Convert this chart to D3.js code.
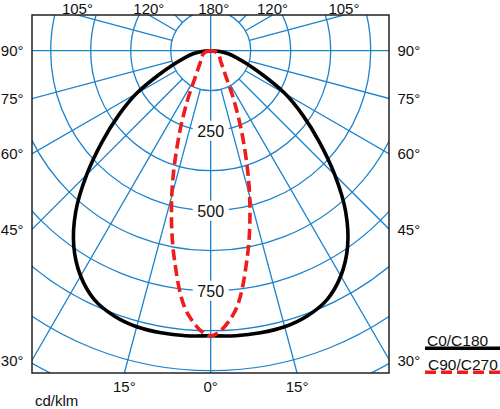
<!DOCTYPE html>
<head>
    <meta charset="utf-8">
    <title>Polar luminous intensity diagram</title>
    <style>
        body { margin: 0; background: #fff; }
        text { font-family: "Liberation Sans", Arial, sans-serif; fill: #111; }
    </style>
</head>
<body>

<script src="https://d3js.org/d3.v7.min.js"></script>

<script>
// gamma angles, degrees from nadir
let gammas = [0, 5, 10, 15, 20, 25, 30, 35, 40, 45, 50, 55, 60, 65, 70, 75, 80, 85, 90];
// cd/klm
let c0c180 = [891, 894, 895, 893, 882, 859, 813, 746, 656, 548, 443, 351, 268, 180, 120, 83, 56, 28, 0];
let c90c270 = [891, 825, 657, 470, 297, 173, 98, 68, 52, 43, 38, 34, 30, 27, 22, 17, 11, 6, 0];

let rings = [125, 250, 375, 500, 625, 750, 875, 1000, 1125];
let ringLabels = [250, 500, 750];
let sideTicks = [90, 75, 60, 45, 30];
let topTicks = [105, 120, 180];
let bottomTicks = [15, 0];
let seriesNames = ["C0/C180", "C90/C270"];

let width = 500;
let height = 409;
let cx = 210.7, cy = 50.7;
let frame = { left: 32, right: 389, top: 15, bottom: 373 };
let gridColor = "#1c82cc";

let svg = d3.select("body").append("svg")
    .attr("width", width)
    .attr("height", height);

let rScale = d3.scaleLinear()
    .domain([0, 1125])
    .range([0, 360]);

let toRad = d => d * Math.PI / 180;

// theta measured from nadir, positive to the right
function pt(theta, radius) {
    return {
        x: cx + radius * Math.sin(toRad(theta)),
        y: cy + radius * Math.cos(toRad(theta))
    };
}

svg.append("clipPath").attr("id", "frameClip")
    .append("rect")
    .attr("x", frame.left)
    .attr("y", frame.top)
    .attr("width", frame.right - frame.left)
    .attr("height", frame.bottom - frame.top);

let grid = svg.append("g").attr("clip-path", "url(#frameClip)");

// rings
grid.selectAll("circle")
    .data(rings)
    .join("circle")
    .attr("cx", cx)
    .attr("cy", cy)
    .attr("r", d => rScale(d))
    .attr("fill", "none")
    .attr("stroke", gridColor)
    .attr("stroke-width", 1.3);

// radial lines every 15 deg, only the axes go through the inner ring
let spokes = d3.range(-180, 180, 15);
grid.selectAll("line")
    .data(spokes)
    .join("line")
    .attr("x1", d => pt(d, d % 90 === 0 ? 0 : rScale(rings[0])).x)
    .attr("y1", d => pt(d, d % 90 === 0 ? 0 : rScale(rings[0])).y)
    .attr("x2", d => pt(d, 600).x)
    .attr("y2", d => pt(d, 600).y)
    .attr("stroke", gridColor)
    .attr("stroke-width", 1.3);

// value labels on the vertical axis
let valLab = svg.selectAll(".vallabel")
    .data(ringLabels)
    .join("g")
    .attr("class", "vallabel")
    .attr("transform", d => `translate(${cx}, ${cy + rScale(d)})`);

valLab.append("rect")
    .attr("x", -18)
    .attr("y", -10)
    .attr("width", 36)
    .attr("height", 20)
    .attr("fill", "#fff");

valLab.append("text")
    .attr("text-anchor", "middle")
    .attr("y", 6)
    .style("font-size", "16px")
    .text(d => d);

// frame
svg.append("rect")
    .attr("x", frame.left)
    .attr("y", frame.top)
    .attr("width", frame.right - frame.left)
    .attr("height", frame.bottom - frame.top)
    .attr("fill", "none")
    .attr("stroke", "#222")
    .attr("stroke-width", 1.5);

// angle labels on the sides
function sideY(theta) {
    return cy + (cx - frame.left) / Math.tan(toRad(theta));
}
[-1, 1].forEach(function (side) {
    svg.selectAll(".side" + side)
        .data(sideTicks)
        .join("text")
        .attr("class", "side" + side)
        .attr("x", side < 0 ? frame.left - 8.5 : frame.right + 8.5)
        .attr("y", d => (d === 90 ? cy : sideY(d)) + 5.5)
        .attr("text-anchor", side < 0 ? "end" : "start")
        .style("font-size", "15px")
        .text(d => d + "°");
});

// angle labels on top
function topX(theta, side) {
    let t = (frame.top - cy) / Math.cos(toRad(theta));
    return cx + side * t * Math.sin(toRad(theta));
}
let topData = [];
topTicks.forEach(d => {
    if (d === 180) topData.push({ a: d, x: cx + 3 });
    else { topData.push({ a: d, x: topX(d, -1) }); topData.push({ a: d, x: topX(d, 1) }); }
});
svg.selectAll(".toplabel")
    .data(topData)
    .join("text")
    .attr("class", "toplabel")
    .attr("x", d => d.x)
    .attr("y", frame.top - 1.5)
    .attr("text-anchor", "middle")
    .style("font-size", "15px")
    .text(d => d.a + "°");

// angle labels at the bottom
let bottomData = [];
bottomTicks.forEach(d => {
    let t = (frame.bottom - cy) / Math.cos(toRad(d));
    if (d === 0) bottomData.push({ a: d, x: cx });
    else {
        bottomData.push({ a: d, x: cx - t * Math.sin(toRad(d)) });
        bottomData.push({ a: d, x: cx + t * Math.sin(toRad(d)) });
    }
});
svg.selectAll(".botlabel")
    .data(bottomData)
    .join("text")
    .attr("class", "botlabel")
    .attr("x", d => d.x)
    .attr("y", frame.bottom + 19)
    .attr("text-anchor", "middle")
    .style("font-size", "15px")
    .text(d => d.a + "°");

svg.append("text")
    .attr("x", 35)
    .attr("y", 406)
    .style("font-size", "15px")
    .text("cd/klm");

// curves, both halves mirrored
function curvePoints(values) {
    let pts = [];
    for (let i = gammas.length - 1; i > 0; i--) pts.push({ a: -gammas[i], v: values[i] });
    for (let i = 0; i < gammas.length; i++) pts.push({ a: gammas[i], v: values[i] });
    return pts;
}

let radial = d3.lineRadial()
    .angle(d => Math.PI - toRad(d.a))
    .radius(d => rScale(d.v))
    .curve(d3.curveCatmullRom);

let curveStyles = [
    { color: "#000", dash: null },
    { color: "#ee1c1c", dash: "11,5" }
];

let curves = svg.append("g").attr("transform", `translate(${cx}, ${cy})`);
[c0c180, c90c270].forEach(function (vals, i) {
    curves.append("path")
        .datum(curvePoints(vals))
        .attr("d", radial)
        .attr("fill", "none")
        .attr("stroke", curveStyles[i].color)
        .attr("stroke-width", 3.6)
        .attr("stroke-dasharray", curveStyles[i].dash)
        .attr("stroke-linejoin", "round");
});

// legend
let legend = svg.append("g");
seriesNames.forEach(function (name, i) {
    let y = 346 + i * 24;
    legend.append("text")
        .attr("x", 427 + i)
        .attr("y", y)
        .style("font-size", "15.5px")
        .text(name);
    legend.append("line")
        .attr("x1", 425)
        .attr("x2", 500)
        .attr("y1", y + 2.2)
        .attr("y2", y + 2.2)
        .attr("stroke", curveStyles[i].color)
        .attr("stroke-width", 3.4)
        .attr("stroke-dasharray", curveStyles[i].dash);
});
</script>

</body>
